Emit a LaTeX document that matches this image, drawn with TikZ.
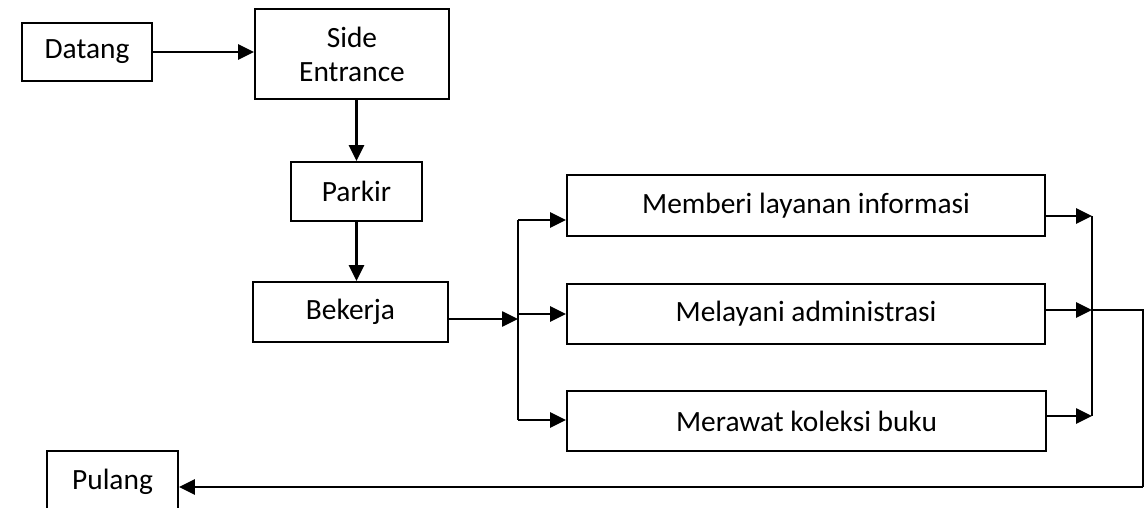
\documentclass[tikz,border=0pt]{standalone}
\usepackage{fontspec}
\setmainfont{Carlito}
\usetikzlibrary{arrows.meta, positioning}

\tikzset{
    box/.style={draw, line width=1.8pt, inner sep=0pt, align=center,
        font=\fontsize{29.4}{34}\selectfont},
    flow/.style={line width=2.6pt, -{Triangle[length=16pt, width=15pt]}},
    link/.style={line width=2pt},
}

\begin{document}
\begin{tikzpicture}[x=1pt, y=-1pt]
    \useasboundingbox (0, 0) rectangle (1144, 508);
    \clip (0, 0) rectangle (1144, 508);

    % Left column
    \node[box, minimum width=130, minimum height=58] (datang) at (87, 52) {Datang};
    \node[box, minimum width=194, minimum height=90] (side) at (352, 54) {Side\\Entrance};
    \node[box, minimum width=131, minimum height=59] (parkir) at (356.5, 191.5) {Parkir};
    \node[box, minimum width=195, minimum height=60] (bekerja) at (350.5, 312) {Bekerja};
    \node[box, minimum width=131, minimum height=62] (pulang) at (112.5, 482) {Pulang};

    % Tasks
    \node[box, minimum width=478, minimum height=61] (memberi) at (806, 205.5) {Memberi layanan informasi};
    \node[box, minimum width=478, minimum height=60] (melayani) at (806, 314) {Melayani administrasi};
    \node[box, minimum width=479, minimum height=60] (merawat) at (806.5, 421) {Merawat koleksi buku};

    % Fork and join points
    \coordinate (hub) at (518, 319);
    \coordinate (fork1) at (518, 220);
    \coordinate (fork2) at (518, 314);
    \coordinate (fork3) at (518, 420);
    \coordinate (join1) at (1092, 216);
    \coordinate (join2) at (1092, 310);
    \coordinate (join3) at (1092, 416);
    \coordinate (edgetop) at (1143, 310);
    \coordinate (edgebot) at (1143, 487);

    % Arrows
    \draw[flow] (datang.east) -- (datang.east -| side.west);
    \draw[flow] (parkir.north |- side.south) -- (parkir.north);
    \draw[flow] (parkir.south) -- (parkir.south |- bekerja.north);
    \draw[flow] (bekerja.east |- hub) -- (hub);

    \draw[link] (fork1) -- (fork3);
    \draw[flow] (fork1) -- (fork1 -| memberi.west);
    \draw[flow] (fork2) -- (fork2 -| melayani.west);
    \draw[flow] (fork3) -- (fork3 -| merawat.west);

    \draw[flow] (join1 -| memberi.east) -- (join1);
    \draw[flow] (join2 -| melayani.east) -- (join2);
    \draw[flow] (join3 -| merawat.east) -- (join3);
    \draw[link] (join1) -- (join3);

    \draw[link] (join2) -- (edgetop) -- (edgebot);
    \draw[flow] (edgebot) -- (edgebot -| pulang.east);
\end{tikzpicture}
\end{document}
